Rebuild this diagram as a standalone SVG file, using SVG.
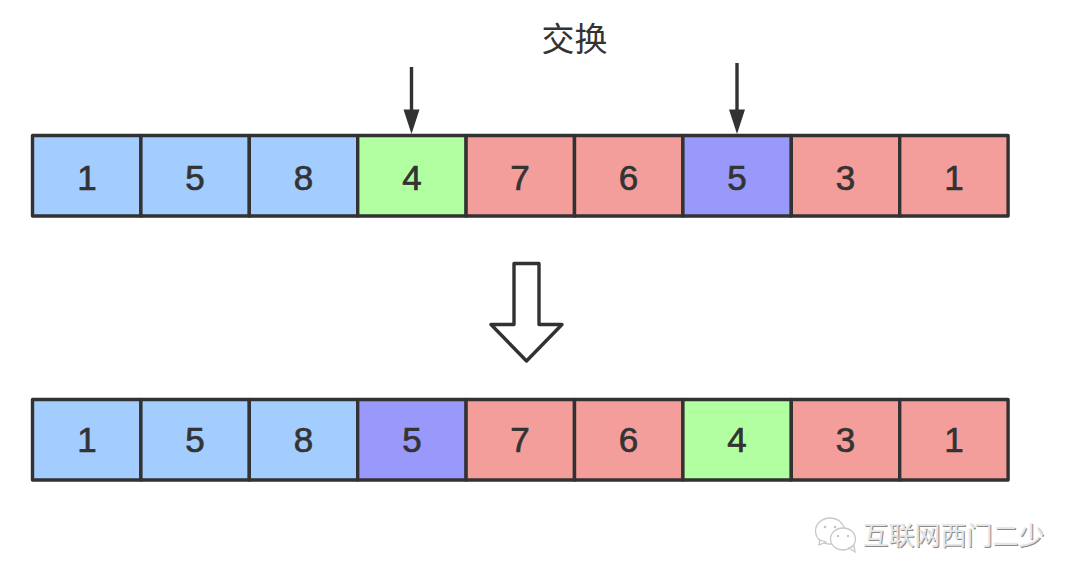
<svg xmlns="http://www.w3.org/2000/svg" width="1080" height="583" viewBox="0 0 1080 583">
<style>
.c{stroke:#323232;stroke-width:3.4;stroke-linejoin:round}
.b{fill:#a3ccff}.r{fill:#f49e9c}.g{fill:#b1ffa1}.p{fill:#9999fb}
.n{font:35px "Liberation Sans",Arial,sans-serif;fill:#333;stroke:#333;stroke-width:.7;text-anchor:middle}
.a{stroke:#323232;stroke-width:3.4;fill:none}
.h{fill:#323232}
.w{font:26px "Noto Sans CJK SC",sans-serif;text-anchor:middle}
.i{fill:#fff;stroke:#c8c8c8;stroke-width:1.3}
.d{fill:#c4c4c4}
</style>
<rect width="1080" height="583" fill="#fff"/>
<text x="574.500" y="51" font-family="'Noto Sans CJK SC',sans-serif" font-size="33" fill="#333" text-anchor="middle">交换</text>
<g id="row1">
<g id="a0"><rect class="c b" x="32.5" y="135.5" width="108.4" height="80.5"/><text class="n" x="87" y="190">1</text></g>
<g id="a1"><rect class="c b" x="140.9" y="135.5" width="108.4" height="80.5"/><text class="n" x="195" y="190">5</text></g>
<g id="a2"><rect class="c b" x="249.3" y="135.5" width="108.4" height="80.5"/><text class="n" x="303.500" y="190">8</text></g>
<g id="a3"><rect class="c g" x="357.700" y="135.5" width="108.4" height="80.5"/><text class="n" x="412" y="190">4</text></g>
<g id="a4"><rect class="c r" x="466.100" y="135.5" width="108.4" height="80.5"/><text class="n" x="520" y="190">7</text></g>
<g id="a5"><rect class="c r" x="574.500" y="135.5" width="108.4" height="80.5"/><text class="n" x="628.500" y="190">6</text></g>
<g id="a6"><rect class="c p" x="682.900" y="135.5" width="108.4" height="80.5"/><text class="n" x="737" y="190">5</text></g>
<g id="a7"><rect class="c r" x="791.300" y="135.5" width="108.4" height="80.5"/><text class="n" x="845.500" y="190">3</text></g>
<g id="a8"><rect class="c r" x="899.700" y="135.5" width="108.4" height="80.5"/><text class="n" x="954" y="190">1</text></g>
</g>
<g id="row2">
<g id="b0"><rect class="c b" x="32.5" y="399.5" width="108.4" height="80.5"/><text class="n" x="87" y="451.500">1</text></g>
<g id="b1"><rect class="c b" x="140.9" y="399.5" width="108.4" height="80.5"/><text class="n" x="195" y="451.500">5</text></g>
<g id="b2"><rect class="c b" x="249.3" y="399.5" width="108.4" height="80.5"/><text class="n" x="303.500" y="451.500">8</text></g>
<g id="b3"><rect class="c p" x="357.700" y="399.5" width="108.4" height="80.5"/><text class="n" x="412" y="451.500">5</text></g>
<g id="b4"><rect class="c r" x="466.100" y="399.5" width="108.4" height="80.5"/><text class="n" x="520" y="451.500">7</text></g>
<g id="b5"><rect class="c r" x="574.500" y="399.5" width="108.4" height="80.5"/><text class="n" x="628.500" y="451.500">6</text></g>
<g id="b6"><rect class="c g" x="682.900" y="399.5" width="108.4" height="80.5"/><text class="n" x="737" y="451.500">4</text></g>
<g id="b7"><rect class="c r" x="791.300" y="399.5" width="108.4" height="80.5"/><text class="n" x="845.500" y="451.500">3</text></g>
<g id="b8"><rect class="c r" x="899.700" y="399.5" width="108.4" height="80.5"/><text class="n" x="954" y="451.500">1</text></g>
</g>
<g id="connectors">
<path class="a" d="M411.500 67V112"/><path class="h" d="M403.500 109.500H419.500L411.500 134Z"/>
<path class="a" d="M737 63V112"/><path class="h" d="M729 109.500H745L737 134Z"/>
<path d="M514 263.500H539V324.500H562L526.500 361L491 324.500H514Z" fill="#fff" stroke="#323232" stroke-width="3.400" stroke-linejoin="round"/>
</g>
<g id="watermark">
<ellipse class="i" cx="830" cy="531" rx="14.500" ry="13"/>
<path class="i" d="M820 540l-1 5 7-3z"/>
<circle class="d" cx="825" cy="527" r="1.300"/><circle class="d" cx="835" cy="527" r="1.300"/>
<ellipse class="i" cx="843" cy="539" rx="12.500" ry="11"/>
<path class="i" d="M849 548l6 4-1-6z"/>
<circle class="d" cx="838" cy="536" r="1.200"/><circle class="d" cx="848" cy="536" r="1.200"/>
<text class="w" x="954.500" y="546" fill="#8a8a8a">互联网西门二少</text>
<text class="w" x="953.500" y="545" fill="#e6e6e6">互联网西门二少</text>
</g>
</svg>
